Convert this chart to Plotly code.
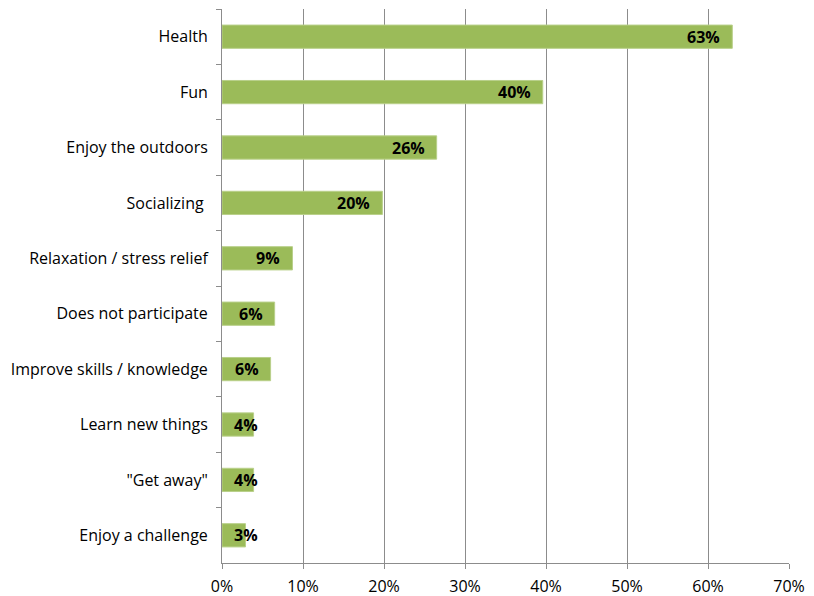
import plotly.graph_objects as go

categories = ["Health", "Fun", "Enjoy the outdoors", "Socializing ", "Relaxation / stress relief",
              "Does not participate", "Improve skills / knowledge", "Learn new things",
              "\"Get away\"", "Enjoy a challenge"]
values = [63.0, 39.6, 26.5, 19.8, 8.7, 6.5, 6.0, 3.9, 3.9, 2.9]
labels = ["63%", "40%", "26%", "20%", "9%", "6%", "6%", "4%", "4%", "3%"]
x_ticks = [0, 10, 20, 30, 40, 50, 60, 70]
x_tick_labels = ["0%", "10%", "20%", "30%", "40%", "50%", "60%", "70%"]

FONT = "Open Sans"
GRID = "#8c8c8c"

fig = go.Figure(go.Bar(
    y=categories, x=values, orientation="h",
    marker=dict(color="#9bbb59", line=dict(color="#b9d08a", width=1)),
    width=0.42, hoverinfo="skip",
))

annotations = []
for c, v, t in zip(categories, values, labels):
    if v >= 5:
        annotations.append(dict(x=v, y=c, text="<b>%s</b>" % t, showarrow=False,
                                xanchor="right", xshift=-10,
                                font=dict(family=FONT, size=16, color="black")))
    else:
        annotations.append(dict(x=0, y=c, text="<b>%s</b>" % t, showarrow=False,
                                xanchor="left", xshift=10,
                                font=dict(family=FONT, size=16, color="black")))

fig.update_layout(
    width=814, height=596,
    margin=dict(l=214, r=33, t=1, b=41),
    plot_bgcolor="white", paper_bgcolor="white",
    showlegend=False,
    font=dict(family=FONT, size=16, color="black"),
    annotations=annotations,
    xaxis=dict(range=[0, 70], tickvals=x_ticks, ticktext=x_tick_labels,
               showgrid=True, gridcolor=GRID, gridwidth=1,
               showline=True, linecolor=GRID, linewidth=1,
               ticks="outside", ticklen=5, tickcolor=GRID, zeroline=False,
               ticklabelstandoff=4, tickfont=dict(size=16), fixedrange=True),
    yaxis=dict(autorange="reversed", showline=True, linecolor=GRID, linewidth=1,
               ticks="outside", ticklen=5, tickcolor=GRID, tickson="boundaries",
               ticklabelstandoff=10, showgrid=False, fixedrange=True),
)

fig.write_html("out.html")
